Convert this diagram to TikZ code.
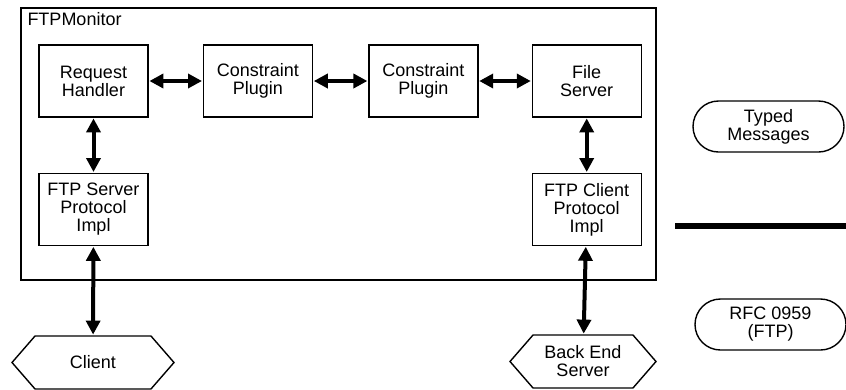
\documentclass[tikz,border=0pt]{standalone}
\usepackage{fontspec}
\setmainfont{Liberation Sans}
\usepackage{tikz}
\usetikzlibrary{arrows.meta, positioning, shapes.symbols, shapes.misc}

\begin{document}
\begin{tikzpicture}[
      x=1pt, y=1pt,
      node distance=54pt,
      font=\fontsize{18}{18}\selectfont,
      comp/.style={draw, line width=1.4pt, align=center, minimum width=109pt, minimum height=72pt, inner sep=0pt},
      ext/.style={draw, line width=1.4pt, align=center, signal, signal to=west and east, signal pointer angle=98, minimum width=146pt, minimum height=53pt, inner sep=0pt},
      legend/.style={draw, line width=1.4pt, align=center, rounded rectangle, minimum width=151pt, minimum height=51pt, inner sep=0pt},
      arr/.style={{Triangle[length=14pt,width=14pt]}-{Triangle[length=14pt,width=14pt]}, line width=4pt, shorten <=0.7pt, shorten >=0.7pt}
    ]
    \useasboundingbox (0,0) rectangle (846,-389);

    % monitor frame
    \node[draw, line width=1.4pt, minimum width=635pt, minimum height=272pt, inner sep=0pt] (monitor) at (338.5,-144) {};
    \node[anchor=north west, inner sep=0pt] (montitle) at ([xshift=7pt,yshift=-5pt]monitor.north west) {FTPMonitor};

    \node[comp] (handler) at (93.5,-81) {Request\\Handler};
    \node[comp, right=54pt of handler] (plugina) {Constraint\\Plugin};
    \node[comp, right=55pt of plugina] (pluginb) {Constraint\\Plugin};
    \node[comp, right=53pt of pluginb] (fileserver) {File\\Server};
    \node[comp, below=55pt of handler] (ftpserver) {FTP Server\\Protocol\\Impl};
    \node[comp, below=55pt of fileserver] (ftpclient) {FTP Client\\Protocol\\Impl};

    \node[ext, minimum width=162pt] (client) at (93,-362.5) {Client};
    \node[ext] (backend) at (583,-361.5) {Back End\\Server};

    \draw[arr] (handler) -- (plugina);
    \draw[arr] (plugina) -- (pluginb);
    \draw[arr] (pluginb) -- (fileserver);
    \draw[arr] (handler) -- (ftpserver);
    \draw[arr] (fileserver) -- (ftpclient);
    \draw[arr] (ftpserver) -- (client);
    \draw[arr] (ftpclient) -- (backend);

    % legend
    \node[legend] (typed) at (768.5,-126.5) {Typed\\Messages};
    \coordinate (sepl) at (675,-226);
    \coordinate (sepr) at (846,-226);
    \draw[line width=5.5pt] (sepl) -- (sepr);
    \node[legend] (rfc) at (770.5,-324.5) {RFC 0959\\(FTP)};
  \end{tikzpicture}
\end{document}
